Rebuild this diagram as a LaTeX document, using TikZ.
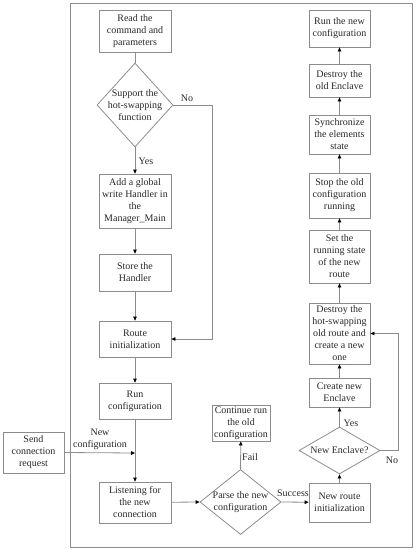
\documentclass[tikz,border=0pt]{standalone}
\usepackage{fontspec}
\setmainfont{Liberation Serif}
\usetikzlibrary{arrows.meta,shapes.geometric}
\definecolor{linec}{RGB}{140,140,140}
\definecolor{textc}{RGB}{40,40,40}
\begin{document}
\begin{tikzpicture}[x=1pt,y=-1pt,
  font=\fontsize{10}{12}\selectfont,
  every node/.style={text=textc},
  box/.style={draw=linec,line width=0.8pt,minimum width=#1,align=center,inner sep=0pt},
  dia/.style={draw=linec,line width=0.8pt,diamond,inner sep=0pt},
  conn/.style={draw=linec,line width=0.8pt,-{Triangle[length=4pt,width=3.6pt,color=black]}},
  plain/.style={draw=linec,line width=0.8pt},
  lbl/.style={inner sep=0pt,align=center}]
\useasboundingbox (0,0) rectangle (416,550);
\draw[linec,line width=0.8pt] (70,3) rectangle (412,547);
% left column
\node[box=72pt,minimum height=42pt] (read) at (135,31) {Read the\\command and\\parameters};
\node[dia,minimum width=76pt,minimum height=84pt] (support) at (135,105) {};
\node[lbl] (supportT) at (135,105) {Support the\\hot-swapping\\function};
\node[box=72pt,minimum height=54pt] (add) at (135,201) {Add a global\\write Handler in\\the\\Manager\_Main};
\node[box=72pt,minimum height=37pt] (store) at (135,272.5) {Store the\\Handler};
\node[box=72pt,minimum height=36pt] (route) at (135,339) {Route\\initialization};
\node[box=72pt,minimum height=36pt] (run) at (135,401) {Run\\configuration};
\node[box=72pt,minimum height=41pt] (listen) at (135,502.5) {Listening for\\the new\\connection};
\node[box=61pt,minimum height=41pt] (send) at (33.5,452.5) {Send\\connection\\request};
\coordinate (merge) at (135,453);
\coordinate (noA) at (212,105);
\coordinate (noB) at (212,339);
% middle
\node[dia,minimum width=81pt,minimum height=65pt] (parse) at (240.5,502) {};
\node[lbl] (parseT) at (240.5,502) {Parse the new\\configuration};
\node[box=58pt,minimum height=36pt] (cont) at (241,423) {Continue run\\the old\\configuration};
% right column
\node[box=61pt,minimum height=39pt] (newroute) at (339.5,502.5) {New route\\initialization};
\node[dia,minimum width=81pt,minimum height=47pt] (newenc) at (339.5,450.5) {};
\node[lbl] (newencT) at (339.5,450.5) {New Enclave?};
\node[box=61pt,minimum height=29pt] (create) at (339.5,392.5) {Create new\\Enclave};
\node[box=61pt,minimum height=61pt] (destroyhs) at (339.5,333.5) {Destroy the\\hot-swapping\\old route and\\create a new\\one};
\node[box=61pt,minimum height=53pt] (setrun) at (339.5,256.5) {Set the\\running state\\of the new\\route};
\node[box=61pt,minimum height=45pt] (stop) at (339.5,195.5) {Stop the old\\configuration\\running};
\node[box=61pt,minimum height=39pt] (sync) at (339.5,134.5) {Synchronize\\the elements\\state};
\node[box=61pt,minimum height=33pt] (destroyold) at (339.5,80.5) {Destroy the\\old Enclave};
\node[box=61pt,minimum height=37pt] (runnew) at (339.5,28.5) {Run the new\\configuration};
\coordinate (encA) at (398,450.5);
\coordinate (encB) at (398,333.5);
% connectors
\path[plain] (read) -- (support.north);
\path[conn] (support.south) -- (add);
\path[conn] (add) -- (store);
\path[conn] (store) -- (route);
\path[conn] (route) -- (run);
\path[conn] (run) -- (listen);
\path[conn] (send.east) -- (merge);
\path[conn] (support.east) -- (noA) -- (noB) -- (route.east);
\path[conn] (listen) -- (parse.west);
\path[conn] (parse.north) -- (cont);
\path[conn] (parse.east) -- (newroute);
\path[conn] (newroute) -- (newenc.south);
\path[conn] (newenc.north) -- (create);
\path[conn] (create) -- (destroyhs);
\path[conn] (newenc.east) -- (encA) -- (encB) -- (destroyhs.east);
\path[conn] (destroyhs) -- (setrun);
\path[conn] (setrun) -- (stop);
\path[conn] (stop) -- (sync);
\path[conn] (sync) -- (destroyold);
\path[conn] (destroyold) -- (runnew);
% labels
\node[lbl] (lNo1) at (187,98) {No};
\node[lbl] (lYes1) at (146,161) {Yes};
\node[lbl] (lNewConf) at (100,439) {New\\configuration};
\node[lbl] (lFail) at (250,457) {Fail};
\node[lbl] (lSucc) at (293,493) {Success};
\node[lbl] (lYes2) at (351,423) {Yes};
\node[lbl] (lNo2) at (392,460) {No};
\end{tikzpicture}
\end{document}
